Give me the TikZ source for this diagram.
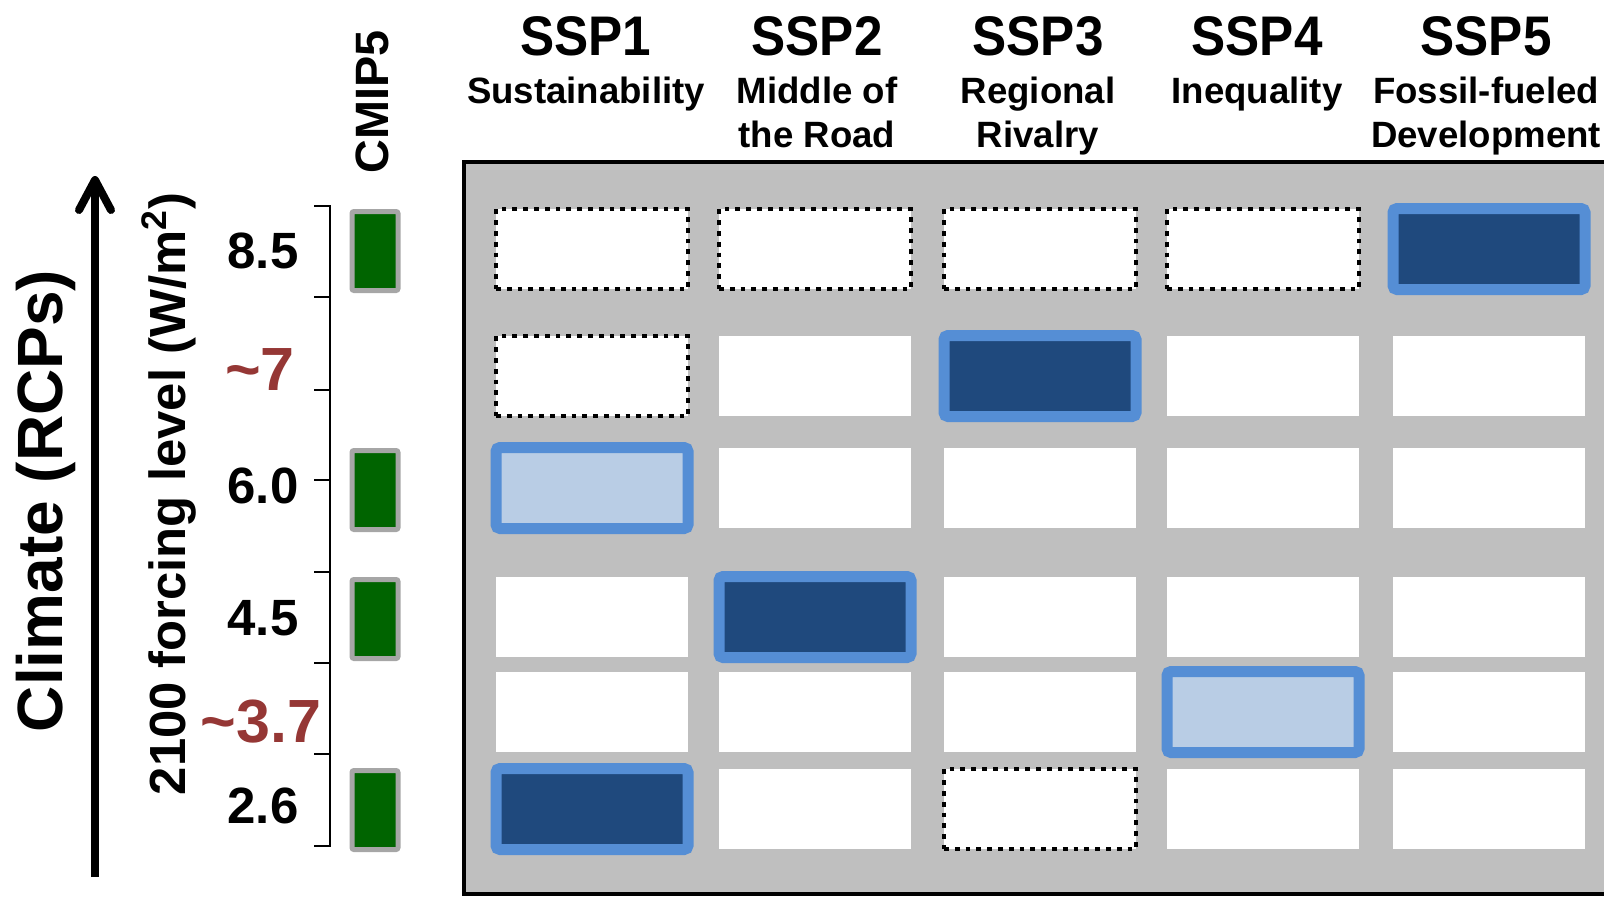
\documentclass[tikz,border=0pt]{standalone}
\usepackage{fontspec}
\setmainfont{Liberation Sans}
\usepackage{graphicx}
\usetikzlibrary{arrows.meta}

\definecolor{gridgray}{HTML}{BFBFBF}
\definecolor{pickblue}{HTML}{558ED5}
\definecolor{darkfill}{HTML}{1F497D}
\definecolor{lightfill}{HTML}{B9CDE5}
\definecolor{cmipgreen}{HTML}{006400}
\definecolor{cmipgray}{HTML}{A6A6A6}
\definecolor{newred}{HTML}{953735}

\tikzset{
  cell/.style={fill=white, minimum width=96pt, minimum height=40pt, inner sep=0pt},
  nocell/.style={cell, draw=black, line width=2.4pt, dash pattern=on 2.4pt off 3pt},
  mainpick/.style={cell, draw=pickblue, fill=darkfill, line width=5.5pt, rounded corners=2pt, minimum height=40.5pt},
  altpick/.style={mainpick, fill=lightfill},
  cmipbar/.style={draw=cmipgray, fill=cmipgreen, line width=2.5pt, rounded corners=1pt, minimum width=23pt, minimum height=39.5pt, inner sep=0pt},
  rcp/.style={anchor=base, font=\fontsize{25.5}{30}\selectfont\bfseries},
  rcpnew/.style={rcp, text=newred, font=\fontsize{30.5}{36}\selectfont\bfseries},
  ssp/.style={anchor=base, font=\fontsize{25.6}{30}\selectfont\bfseries},
  ssplab/.style={anchor=base, font=\fontsize{18.3}{22}\selectfont\bfseries},
}

\begin{document}
\begin{tikzpicture}[x=0.5pt, y=-0.5pt]
	\useasboundingbox (0,0) rectangle (1604,896);
	\clip (0,0) rectangle (1604,896);
	% scenario matrix
	\draw [line width=2pt, fill=gridgray] (464,162) rectangle (1660,894);
	\foreach \y/\r/\sa/\sb/\sc/\sd/\se in {249/85/nocell/nocell/nocell/nocell/mainpick, 376/7/nocell/cell/mainpick/cell/cell, 488/60/altpick/cell/cell/cell/cell, 617/45/cell/mainpick/cell/cell/cell, 712/37/cell/cell/cell/altpick/cell, 809/26/mainpick/cell/nocell/cell/cell}
		\foreach \x/\c/\s in {592/1/\sa, 815/2/\sb, 1040/3/\sc, 1263/4/\sd, 1489/5/\se}
			\node [\s] (c\c-\r) at (\x,\y) {};
	% CMIP5 runs
	\foreach \y/\r in {251/85, 490/60, 619/45, 810/26}
		\node [cmipbar] (g\r) at (375,\y) {};
	\node [rotate=90, anchor=base, font=\fontsize{23.4}{28}\selectfont\bfseries] (cmip) at (388,102) {CMIP5};
	% forcing levels
	\node [rcp] (l85) at (263,268) {8.5};
	\node [rcpnew] (l7) at (260,390) {\textasciitilde 7};
	\node [rcp] (l60) at (263,503) {6.0};
	\node [rcp] (l45) at (263,635) {4.5};
	\node [rcpnew] (l37) at (261,742) {\textasciitilde 3.7};
	\node [rcp] (l26) at (263,823) {2.6};
	\draw [line width=1pt] (314,206) -| (330,846) -- (314,846);
	\foreach \t in {297,390,480,572,663,754}
		\draw [line width=1pt] (314,\t) -- (330,\t);
	\node [rotate=90, anchor=base, font=\fontsize{25.4}{30}\selectfont\bfseries] (forc) at (185,494) {2100 forcing level (W/m\textsuperscript{2})};
	% climate axis
	\coordinate (arrfoot) at (95,877);
	\coordinate (arrhead) at (95,176);
	\draw [line width=4pt, -{Straight Barb[length=15pt, width=16pt, round]}] (arrfoot) -- (arrhead);
	\node [rotate=90, anchor=base, font=\fontsize{32}{38}\selectfont\bfseries] (clim) at (62,501) {Climate (RCPs)};
	% SSP headers
	\foreach \x/\n in {586/1, 817/2, 1038/3, 1257/4, 1486/5}
		\node [ssp] (ssp\n) at (\x,55) {\scalebox{1}[1.09]{SSP\n}};
	\node [ssplab] (s1a) at (586,103) {Sustainability};
	\node [ssplab] (s2a) at (817,103) {Middle of};
	\node [ssplab] (s2b) at (817,147) {the Road};
	\node [ssplab] (s3a) at (1038,103) {Regional};
	\node [ssplab] (s3b) at (1038,147) {Rivalry};
	\node [ssplab] (s4a) at (1257,103) {Inequality};
	\node [ssplab] (s5a) at (1486,103) {Fossil-fueled};
	\node [ssplab] (s5b) at (1486,147) {Development};
\end{tikzpicture}
\end{document}
